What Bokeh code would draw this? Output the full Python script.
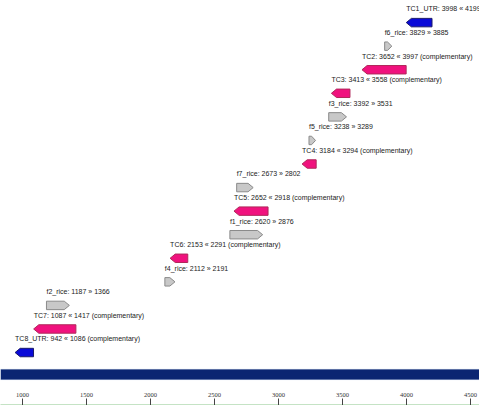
from bokeh.plotting import figure
from bokeh.models import Range1d, BoxAnnotation, FixedTicker, LinearAxis, ColumnDataSource
from bokeh.core.properties import value
from bokeh.embed import file_html
from bokeh.resources import INLINE

# ---- data ----
names = ["TC1_UTR", "f6_rice", "TC2", "TC3", "f3_rice", "f5_rice", "TC4", "f7_rice",
         "TC5", "f1_rice", "TC6", "f4_rice", "f2_rice", "TC7", "TC8_UTR"]
starts = [3998, 3829, 3652, 3413, 3392, 3238, 3184, 2673, 2652, 2620, 2153, 2112, 1187, 1087, 942]
ends = [4199, 3885, 3997, 3558, 3531, 3289, 3294, 2802, 2918, 2876, 2291, 2191, 1366, 1417, 1086]
complementary = [True, False, True, True, False, False, True, False, True, False, True, False, False, True, True]
kinds = ["UTR", "rice", "TC", "TC", "rice", "rice", "TC", "rice", "TC", "rice", "TC", "rice", "rice", "TC", "UTR"]
tick_values = [1000, 1500, 2000, 2500, 3000, 3500, 4000, 4500]

fill_by_kind = {"UTR": "#0A0AD8", "TC": "#F0127E", "rice": "#C8C8C8"}
line_by_kind = {"UTR": "#1A1A6A", "TC": "#B0285A", "rice": "#8A8A8A"}

ROW_PX = 23.45
TOP_PX = 22.0
FRAME_H = 403

xs, ys, fills, lines = [], [], [], []
lab_x, lab_y, lab_t = [], [], []
hh = 4.2 / ROW_PX
for i, (n, s, e, c, k) in enumerate(zip(names, starts, ends, complementary, kinds)):
    h = min(40.0, 0.6 * (e - s))
    if c:
        xs.append([s, s + h, e, e, s + h])
        ys.append([i, i - hh, i - hh, i + hh, i + hh])
        sep = "\u00ab"
        suffix = " (complementary)"
    else:
        xs.append([s, e - h, e, e - h, s])
        ys.append([i - hh, i - hh, i, i + hh, i + hh])
        sep = "\u00bb"
        suffix = ""
    fills.append(fill_by_kind[k])
    lines.append(line_by_kind[k])
    lab_x.append(s)
    lab_y.append(i - 0.58)
    lab_t.append(f"{n}: {s} {sep} {e}{suffix}")

p = figure(width=479, height=405, output_backend="svg", toolbar_location=None,
           x_range=Range1d(828, 4570),
           y_range=Range1d((FRAME_H - TOP_PX) / ROW_PX, -TOP_PX / ROW_PX),
           min_border_left=0, min_border_right=0, min_border_top=0, min_border_bottom=0,
           x_axis_location=None, y_axis_location=None)
p.grid.visible = False
p.outline_line_color = None
p.background_fill_color = "white"

# genomic band
p.add_layout(BoxAnnotation(bottom=14.93 + 5.2 / ROW_PX, top=14.93 - 5.2 / ROW_PX,
                           fill_color="#0B2572", fill_alpha=1.0,
                           line_color="#AFC8E6", line_width=1))

src = ColumnDataSource(dict(xs=xs, ys=ys, fill=fills, line=lines))
p.patches("xs", "ys", fill_color="fill", line_color="line", line_width=1, source=src)

tsrc = ColumnDataSource(dict(x=lab_x, y=lab_y, t=lab_t))
p.text("x", "y", text="t", source=tsrc, text_align="left", text_baseline="middle",
       text_font_size="7px", text_color="#222222",
       text_font=value("Liberation Sans"))

ax = LinearAxis(ticker=FixedTicker(ticks=tick_values))
ax.axis_line_color = "#8CC88C"
ax.axis_line_width = 2
ax.major_tick_in = 7
ax.major_tick_out = 0
ax.minor_tick_line_color = None
ax.major_tick_line_color = "#444444"
ax.major_label_standoff = -13
ax.major_label_text_align = "left"
ax.major_label_text_font_size = "6.5px"
ax.major_label_text_font = "Liberation Sans Narrow"
ax.major_label_text_color = "#333333"
p.add_layout(ax, "below")

open("out.html", "w").write(file_html(p, INLINE))
